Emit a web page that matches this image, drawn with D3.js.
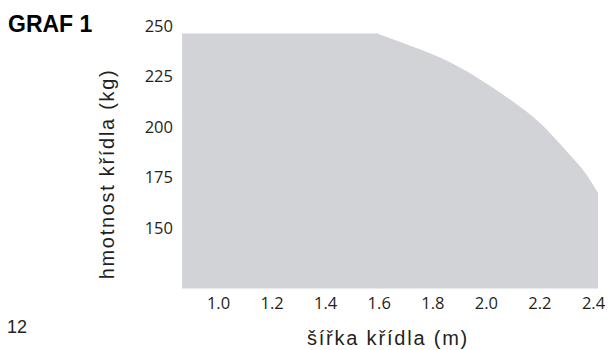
<!DOCTYPE html>
<html><head><meta charset="utf-8">
<script src="https://cdn.jsdelivr.net/npm/d3@7"></script>
<style>
html,body{margin:0;padding:0;background:#fff;}
svg{display:block;}
</style></head>
<body>
<script>
const widthTicks = [1.0, 1.2, 1.4, 1.6, 1.8, 2.0, 2.2, 2.4];
const massTicks = [150, 175, 200, 225, 250];
// flat part of the limit
const flatWidth = [0.866, 1.597];
const flatMass = [246.3, 246.3];
// curved part of the limit
const curveWidth = [1.594, 1.691, 1.818, 1.915, 2.015, 2.101, 2.202, 2.303, 2.378, 2.419];
const curveMass =  [246.3, 241.6, 235.0, 228.6, 220.4, 212.6, 202.0, 187.8, 176.0, 167.3];
const massFloor = 120;

const W = 614, H = 350;
const svg = d3.select("body").append("svg").attr("width", W).attr("height", H);

const x = d3.scaleLinear().domain([1.0, 2.4]).range([218, 593]);
const y = d3.scaleLinear().domain([150, 250]).range([228, 26]);

const fill = "#d2d3d7";
const flatPts = flatWidth.map((w, i) => ({w, m: flatMass[i]}));
const curvePts = curveWidth.map((w, i) => ({w, m: curveMass[i]}));
const areaLin = d3.area().x(d => x(d.w)).y0(y(massFloor)).y1(d => y(d.m)).curve(d3.curveLinear);
const areaSmooth = d3.area().x(d => x(d.w)).y0(y(massFloor)).y1(d => y(d.m)).curve(d3.curveMonotoneX);
svg.append("path").datum(flatPts).attr("d", areaLin).attr("fill", fill);
svg.append("path").datum(curvePts).attr("d", areaSmooth).attr("fill", fill);

const tickFont = "'Open Sans', sans-serif";
const yAxis = svg.append("g").attr("transform", "translate(173,0)")
  .call(d3.axisLeft(y).tickValues(massTicks).tickSize(0).tickPadding(0).tickFormat(d3.format("d")));
yAxis.select(".domain").remove();
yAxis.selectAll("text").attr("font-family", tickFont).attr("font-size", 16.5).attr("fill", "#231f20");

const xAxis = svg.append("g").attr("transform", "translate(0,297)")
  .call(d3.axisBottom(x).tickValues(widthTicks).tickSize(0).tickPadding(0).tickFormat(d3.format(".1f")));
xAxis.select(".domain").remove();
xAxis.selectAll("text").attr("font-family", tickFont).attr("font-size", 16.5).attr("fill", "#231f20");

const labFont = "'Liberation Sans', Arial, sans-serif";
svg.append("text").attr("x", 388).attr("y", 345).attr("text-anchor", "middle")
  .attr("font-family", labFont).attr("font-size", 20).attr("letter-spacing", 1.8)
  .attr("fill", "#231f20").text("šířka křídla (m)");
svg.append("text").attr("transform", "translate(114,174) rotate(-90)").attr("text-anchor", "middle")
  .attr("font-family", labFont).attr("font-size", 20).attr("letter-spacing", 1.7)
  .attr("fill", "#231f20").text("hmotnost křídla (kg)");
svg.append("text").attr("x", 8).attr("y", 32)
  .attr("font-family", labFont).attr("font-size", 23).attr("font-weight", "bold")
  .attr("fill", "#000").text("GRAF 1");
svg.append("text").attr("x", 7).attr("y", 333)
  .attr("font-family", labFont).attr("font-size", 18)
  .attr("fill", "#231f20").text("12");
</script>
</body></html>
